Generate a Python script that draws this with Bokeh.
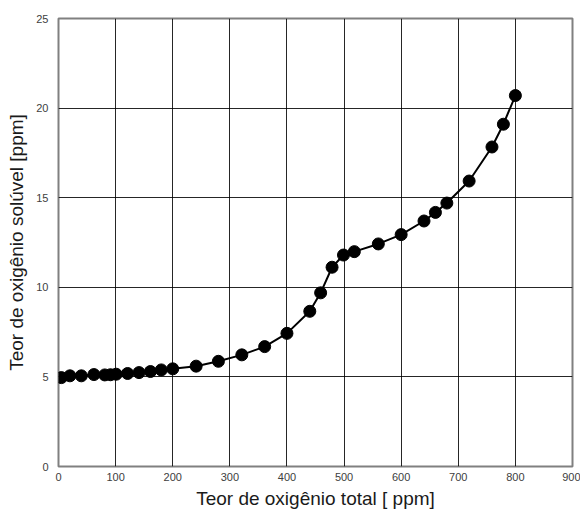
from bokeh.plotting import figure
from bokeh.models import Range1d, FixedTicker
from bokeh.embed import file_html
from bokeh.resources import INLINE

x_total = [5, 20, 40, 62, 81, 91, 101, 121, 141, 161, 180, 200, 241, 280, 321, 361,
           400, 440, 459, 479, 499, 518, 560, 600, 640, 660, 680, 719, 759, 779, 800]
y_soluvel = [4.96, 5.06, 5.06, 5.13, 5.11, 5.12, 5.15, 5.19, 5.24, 5.30, 5.39, 5.45, 5.60, 5.87, 6.23, 6.69,
             7.43, 8.66, 9.69, 11.12, 11.80, 11.99, 12.42, 12.94, 13.70, 14.18, 14.70, 15.93, 17.83, 19.10, 20.70]

x_ticks = [0, 100, 200, 300, 400, 500, 600, 700, 800, 900]
y_ticks = [0, 5, 10, 15, 20, 25]

FONT = "Liberation Sans"

p = figure(width=580, height=512, output_backend="svg", toolbar_location=None,
           x_range=Range1d(0, 900), y_range=Range1d(0, 25),
           min_border_left=58, min_border_right=8, min_border_top=18, min_border_bottom=46)

p.line(x_total, y_soluvel, line_color="black", line_width=2)
p.scatter(x_total, y_soluvel, size=12, fill_color="black", line_color="black")

p.xaxis.ticker = FixedTicker(ticks=x_ticks)
p.yaxis.ticker = FixedTicker(ticks=y_ticks)
p.xgrid.ticker = FixedTicker(ticks=x_ticks)
p.ygrid.ticker = FixedTicker(ticks=y_ticks)

for ax in (p.xaxis[0], p.yaxis[0]):
    ax.axis_line_color = None
    ax.major_tick_line_color = None
    ax.minor_tick_line_color = None
    ax.major_tick_in = 0
    ax.major_tick_out = 0
    ax.major_label_text_font = FONT
    ax.major_label_text_font_size = "11px"
    ax.major_label_text_color = "#404040"
    ax.axis_label_text_font = FONT
    ax.axis_label_text_font_size = "19px"
    ax.axis_label_text_font_style = "normal"
    ax.axis_label_text_color = "#1a1a1a"

p.xaxis.axis_label = "Teor de oxigênio total [ ppm]"
p.yaxis.axis_label = "Teor de oxigênio solúvel [ppm]"
p.xaxis.major_label_standoff = 6
p.yaxis.major_label_standoff = 10
p.xaxis.axis_label_standoff = 4
p.yaxis.axis_label_standoff = 6

p.grid.grid_line_color = "black"
p.grid.grid_line_width = 1
p.grid.grid_line_alpha = 0.85

p.outline_line_color = "#808080"
p.outline_line_width = 2

open("out.html", "w").write(file_html(p, INLINE))
